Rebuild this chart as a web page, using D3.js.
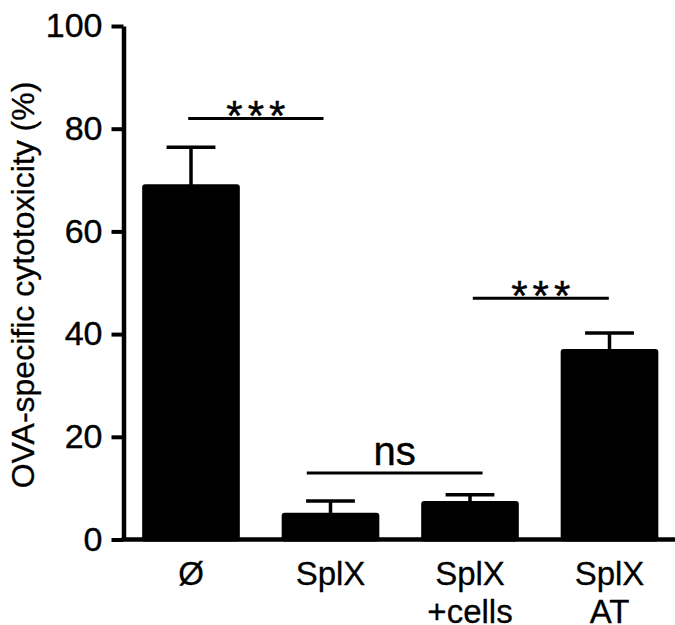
<!DOCTYPE html>
<html>
<head>
<meta charset="utf-8">
<script src="https://cdn.jsdelivr.net/npm/d3@7"></script>
<style>
body { margin: 0; background: white; }
text { font-family: Arial, "Liberation Sans", sans-serif; fill: black; }
</style>
</head>
<body>
<script>
// groups and values
var groups = ["Ø", "SplX", "SplX\n+cells", "SplX\nAT"]
var means = [69.2, 5.2, 7.5, 37.1]
var sems = [7.2, 2.3, 1.2, 3.1]
var yTicks = [0, 20, 40, 60, 80, 100]

// significance brackets: ends given as category positions, height in %
var sigFrom = [-0.02, 0.83, 2.02]
var sigTo = [0.95, 2.09, 2.995]
var sigY = [82.0, 12.95, 47.0]
var sigLabel = ["***", "ns", "***"]

var width = 675
var height = 625

var svg = d3.select("body")
    .append("svg")
    .attr("width", width)
    .attr("height", height)

var x = d3.scaleBand()
    .domain(groups)
    .range([121.25, 679.25])
    .paddingInner(0.3)
    .paddingOuter(0.15)

var y = d3.scaleLinear()
    .domain([0, 100])
    .range([539.5, 26])

// fractional category position -> pixel
function xPos(i) {
    return x(groups[0]) + x.bandwidth() / 2 + i * x.step()
}

// bars
svg.selectAll(".bar")
    .data(means)
    .enter()
    .append("rect")
    .attr("class", "bar")
    .attr("x", (d, i) => x(groups[i]))
    .attr("width", x.bandwidth())
    .attr("y", (d) => y(d))
    .attr("height", (d) => y(0) - y(d) + 2)
    .attr("rx", 3)
    .attr("fill", "black")

// error bars (upper only)
var err = svg.selectAll(".err")
    .data(means)
    .enter()
    .append("g")
    .attr("class", "err")
    .attr("stroke", "black")
    .attr("stroke-width", 3.5)

err.append("line")
    .attr("x1", (d, i) => x(groups[i]) + x.bandwidth() / 2)
    .attr("x2", (d, i) => x(groups[i]) + x.bandwidth() / 2)
    .attr("y1", (d) => y(d) + 2)
    .attr("y2", (d, i) => y(d + sems[i]))

err.append("line")
    .attr("x1", (d, i) => x(groups[i]) + x.bandwidth() / 4)
    .attr("x2", (d, i) => x(groups[i]) + x.bandwidth() * 3 / 4)
    .attr("y1", (d, i) => y(d + sems[i]))
    .attr("y2", (d, i) => y(d + sems[i]))

// y axis
var yAxis = svg.append("g")
    .attr("transform", "translate(123.5,0)")
    .call(d3.axisLeft(y).tickValues(yTicks).tickSize(12).tickSizeOuter(0).tickPadding(9))

yAxis.select(".domain").attr("stroke-width", 4.5)
yAxis.selectAll(".tick line").attr("stroke-width", 4)
yAxis.selectAll(".tick text")
    .style("font-size", "34px")
    .style("stroke", "black")
    .style("stroke-width", 0.4)
    .attr("font-family", null)

// x axis
var xAxis = svg.append("g")
    .attr("transform", "translate(0," + y(0) + ")")
    .call(d3.axisBottom(x).tickSize(0).tickSizeOuter(0))

xAxis.select(".domain")
    .attr("d", "M121.5,0H675")
    .attr("stroke-width", 4.5)

xAxis.selectAll(".tick text")
    .attr("font-family", null)
    .style("font-size", "33px")
    .style("stroke", "black")
    .style("stroke-width", 0.3)
    .attr("y", 45.5)
    .attr("dy", null)
    .text(null)
    .each(function (d) {
        var t = d3.select(this)
        d.split("\n").forEach(function (s, k) {
            t.append("tspan")
                .attr("x", 0)
                .attr("dy", k === 0 ? 0 : 38)
                .text(s)
        })
    })

// y axis title
svg.append("text")
    .attr("transform", "translate(34,285) rotate(-90)")
    .attr("text-anchor", "middle")
    .style("font-size", "32px")
    .style("stroke", "black")
    .style("stroke-width", 0.3)
    .text("OVA-specific cytotoxicity (%)")

// significance brackets
var sig = svg.selectAll(".sig")
    .data(sigY)
    .enter()
    .append("g")
    .attr("class", "sig")

sig.append("line")
    .attr("x1", (d, i) => xPos(sigFrom[i]))
    .attr("x2", (d, i) => xPos(sigTo[i]))
    .attr("y1", (d) => y(d))
    .attr("y2", (d) => y(d))
    .attr("stroke", "black")
    .attr("stroke-width", 3)

sig.append("text")
    .attr("x", (d, i) => (xPos(sigFrom[i]) + xPos(sigTo[i])) / 2 + (sigLabel[i] === "ns" ? 0 : 2.5))
    .attr("y", (d, i) => y(d) + (sigLabel[i] === "ns" ? -8 : 12))
    .attr("text-anchor", "middle")
    .style("font-size", (d, i) => sigLabel[i] === "ns" ? "40px" : "42px")
    .style("letter-spacing", (d, i) => sigLabel[i] === "ns" ? "0px" : "5px")
    .style("stroke", "black")
    .style("stroke-width", 0.4)
    .text((d, i) => sigLabel[i])
</script>
</body>
</html>
